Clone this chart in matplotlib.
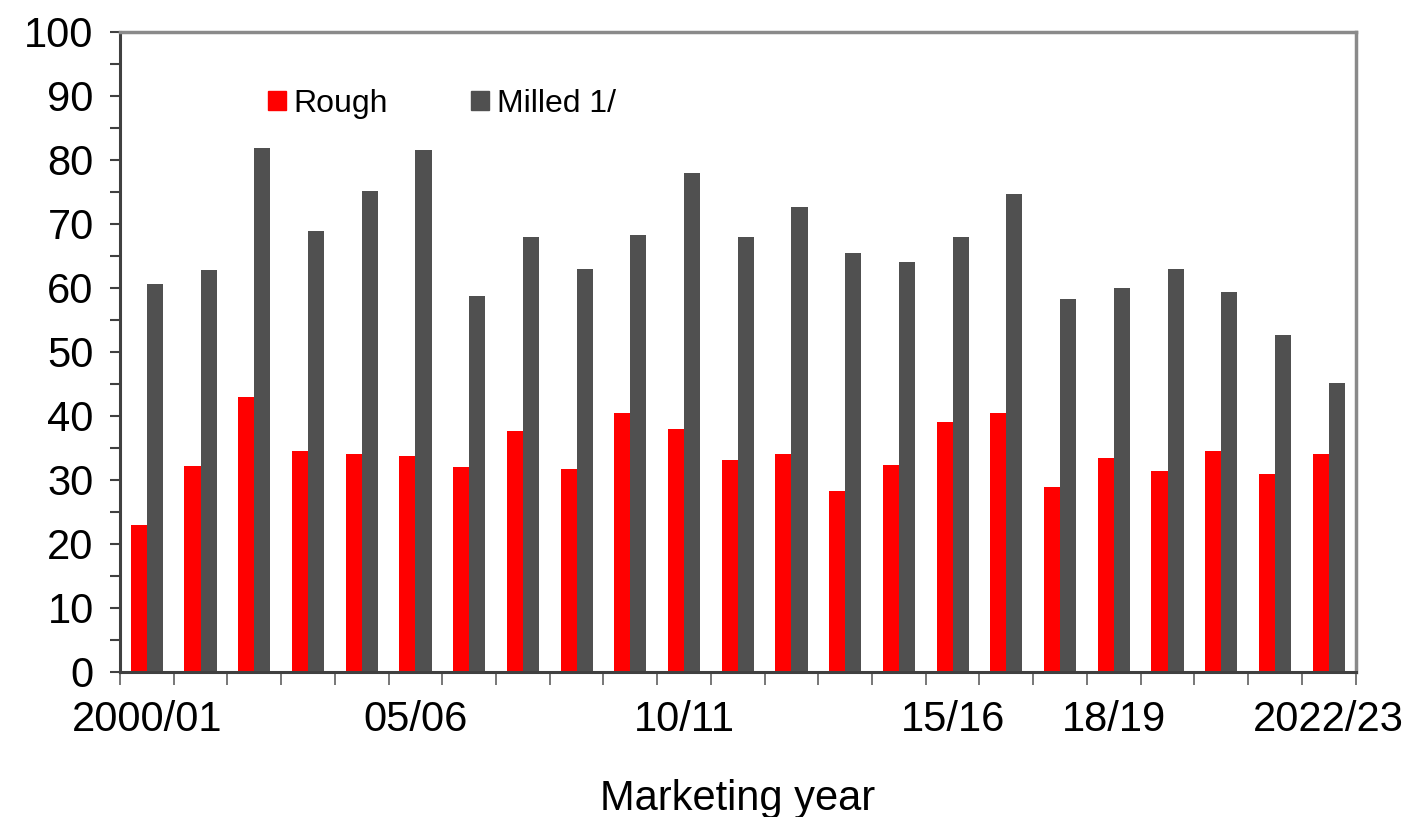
import numpy as np
import matplotlib
matplotlib.use("Agg")
import matplotlib.pyplot as plt
from matplotlib.patches import Patch

plt.rcParams['font.family'] = ['Liberation Sans', 'DejaVu Sans']

# marketing years 2000/01 .. 2022/23
years = [f"{y % 100:02d}/{(y + 1) % 100:02d}" for y in range(2000, 2023)]
label_idx = [0, 5, 10, 15, 18, 22]
label_text = ["2000/01", "05/06", "10/11", "15/16", "18/19", "2022/23"]

rough = [23.0, 32.2, 42.9, 34.5, 34.0, 33.7, 32.0, 37.7, 31.7, 40.4, 37.9, 33.1,
         34.1, 28.2, 32.4, 39.0, 40.4, 28.9, 33.4, 31.4, 34.6, 31.0, 34.1]
milled = [60.6, 62.8, 81.9, 68.9, 75.2, 81.5, 58.8, 67.9, 63.0, 68.2, 77.9, 68.0,
          72.7, 65.4, 64.0, 67.9, 74.7, 58.3, 60.0, 63.0, 59.3, 52.7, 45.1]

RED = "#ff0000"
GREY = "#505050"

fig = plt.figure(figsize=(14.12, 8.17), dpi=100)
ax = fig.add_axes([0.085, 0.1775, 0.875, 0.7835])

x = np.arange(len(years))
w = 0.3
ax.bar(x - w / 2, rough, width=w, color=RED, label="Rough")
ax.bar(x + w / 2, milled, width=w, color=GREY, label="Milled 1/")

ax.set_xlim(-0.5, len(years) - 0.5)
ax.set_ylim(0, 100)

# y axis: labels every 10, ticks every 5
ax.set_yticks(np.arange(0, 101, 10))
ax.set_yticks(np.arange(5, 100, 10), minor=True)
ax.tick_params(axis='y', which='both', direction='out', length=7, width=1.5,
               color="#404040", labelsize=30, pad=12)

# x axis: ticks on category boundaries, labels on selected years
ax.set_xticks(np.arange(-0.5, len(years), 1))
ax.set_xticklabels([])
ax.set_xticks(label_idx, minor=True)
ax.set_xticklabels(label_text, minor=True)
ax.tick_params(axis='x', which='major', direction='out', length=9, width=1.2, color="#606060")
ax.tick_params(axis='x', which='minor', length=0, labelsize=30, pad=20)

for s in ['left', 'bottom']:
    ax.spines[s].set_color("#404040")
    ax.spines[s].set_linewidth(2.2)
for s in ['top', 'right']:
    ax.spines[s].set_color("#8a8a8a")
    ax.spines[s].set_linewidth(2.5)

ax.set_xlabel("Marketing year", fontsize=30, labelpad=28)

handles = [Patch(color=RED, label="Rough"), Patch(color=GREY, label="Milled 1/")]
ax.legend(handles=handles, loc='center left', bbox_to_anchor=(0.12, 0.888), ncol=2,
          frameon=False, fontsize=23, handlelength=0.55, handleheight=0.55,
          handletextpad=0.25, columnspacing=2.6, borderaxespad=0, borderpad=0)

fig.savefig("out.png", dpi=100)
